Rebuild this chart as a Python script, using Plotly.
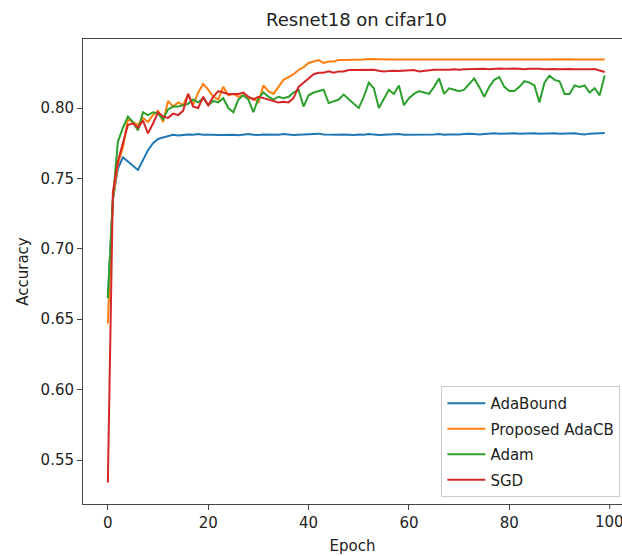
import plotly.graph_objects as go

epochs = list(range(100))

adabound = [0.665, 0.735, 0.757, 0.765, 0.762, 0.759, 0.756, 0.763, 0.770, 0.775,
            0.778, 0.779, 0.780, 0.781, 0.7805, 0.781, 0.7812, 0.781, 0.7815, 0.781,
            0.7812, 0.781, 0.7808, 0.781, 0.7812, 0.781, 0.7806, 0.781, 0.7815, 0.781,
            0.7808, 0.7812, 0.781, 0.7808, 0.781, 0.7815, 0.781, 0.7808, 0.781, 0.7812,
            0.781, 0.7812, 0.7818, 0.7812, 0.781, 0.7808, 0.781, 0.7812, 0.781, 0.7808,
            0.7812, 0.781, 0.7815, 0.781, 0.7808, 0.781, 0.7812, 0.781, 0.7815, 0.781,
            0.781, 0.7812, 0.781, 0.7808, 0.781, 0.7812, 0.7815, 0.781, 0.7812, 0.781,
            0.7812, 0.7815, 0.7818, 0.7815, 0.7812, 0.7815, 0.7818, 0.782, 0.7818, 0.782,
            0.7822, 0.782, 0.7818, 0.782, 0.7822, 0.782, 0.7818, 0.782, 0.7822, 0.782,
            0.7818, 0.782, 0.7822, 0.782, 0.7815, 0.7812, 0.7818, 0.782, 0.7818, 0.7822]

adacb = [0.647, 0.735, 0.760, 0.772, 0.792, 0.790, 0.788, 0.793, 0.790, 0.795,
         0.798, 0.790, 0.805, 0.801, 0.804, 0.802, 0.810, 0.802, 0.811, 0.817,
         0.813, 0.808, 0.806, 0.815, 0.809, 0.810, 0.808, 0.809, 0.807, 0.807,
         0.804, 0.816, 0.812, 0.810, 0.815, 0.820, 0.822, 0.824, 0.827, 0.829,
         0.832, 0.833, 0.834, 0.832, 0.833, 0.833, 0.834, 0.834, 0.834, 0.8343,
         0.8345, 0.8345, 0.8348, 0.8346, 0.8345, 0.8346, 0.8345, 0.8345, 0.8344, 0.8345,
         0.8345, 0.8346, 0.8345, 0.8345, 0.8344, 0.8345, 0.8345, 0.8346, 0.8345, 0.8345,
         0.8344, 0.8345, 0.8346, 0.8345, 0.8345, 0.8345, 0.8346, 0.8345, 0.8345, 0.8344,
         0.8345, 0.8345, 0.8346, 0.8345, 0.8345, 0.8344, 0.8345, 0.8345, 0.8346, 0.8345,
         0.8345, 0.8345, 0.8346, 0.8345, 0.8345, 0.8344, 0.8345, 0.8345, 0.8346, 0.8345]

adam = [0.665, 0.735, 0.776, 0.786, 0.794, 0.790, 0.784, 0.797, 0.795, 0.797,
        0.796, 0.792, 0.799, 0.801, 0.801, 0.802, 0.803, 0.806, 0.804, 0.807,
        0.802, 0.805, 0.804, 0.807, 0.800, 0.797, 0.806, 0.809, 0.806, 0.797,
        0.807, 0.811, 0.808, 0.806, 0.808, 0.807, 0.808, 0.811, 0.813, 0.801,
        0.809, 0.811, 0.812, 0.813, 0.8035, 0.805, 0.806, 0.8095, 0.806, 0.803,
        0.800, 0.808, 0.818, 0.814, 0.800, 0.807, 0.813, 0.810, 0.816, 0.802,
        0.807, 0.810, 0.812, 0.811, 0.810, 0.815, 0.821, 0.810, 0.814, 0.813,
        0.812, 0.813, 0.817, 0.821, 0.815, 0.808, 0.815, 0.820, 0.822, 0.815,
        0.812, 0.812, 0.815, 0.819, 0.818, 0.816, 0.804, 0.818, 0.823, 0.820,
        0.819, 0.810, 0.810, 0.816, 0.815, 0.816, 0.811, 0.814, 0.809, 0.823]

sgd = [0.534, 0.740, 0.762, 0.775, 0.788, 0.789, 0.786, 0.791, 0.782, 0.789,
       0.797, 0.794, 0.793, 0.796, 0.795, 0.798, 0.810, 0.801, 0.800, 0.808,
       0.802, 0.808, 0.812, 0.811, 0.810, 0.810, 0.810, 0.811, 0.808, 0.806,
       0.808, 0.807, 0.806, 0.805, 0.804, 0.8045, 0.804, 0.807, 0.815, 0.818,
       0.821, 0.824, 0.825, 0.825, 0.826, 0.825, 0.826, 0.826, 0.827, 0.827,
       0.8268, 0.827, 0.8272, 0.8272, 0.8265, 0.826, 0.8262, 0.8265, 0.8262, 0.8265,
       0.8265, 0.827, 0.826, 0.8265, 0.827, 0.8272, 0.8272, 0.827, 0.8272, 0.8275,
       0.8272, 0.8275, 0.8277, 0.8275, 0.828, 0.8278, 0.8275, 0.8278, 0.828, 0.8278,
       0.828, 0.828, 0.8278, 0.8275, 0.8278, 0.828, 0.8278, 0.8275, 0.8278, 0.8277,
       0.8275, 0.8278, 0.8277, 0.8275, 0.8277, 0.8278, 0.8276, 0.8277, 0.8265, 0.8256]

series = [
    ("AdaBound", adabound, "#1f77b4"),
    ("Proposed AdaCB", adacb, "#ff7f0e"),
    ("Adam", adam, "#2ca02c"),
    ("SGD", sgd, "#d62728"),
]

x_ticks = [0, 20, 40, 60, 80]
x_last_tick = 100
y_ticks = [0.55, 0.60, 0.65, 0.70, 0.75, 0.80]

FONT = "DejaVu Sans"
AX = "#444444"
TXT = "#222222"
FS = 15

fig = go.Figure()
for i, (name, vals, col) in enumerate(series):
    fig.add_trace(go.Scatter(x=epochs, y=vals, mode="lines", name=name,
                             legendgroup=f"g{i}",
                             line=dict(color=col, width=2)))

fig.update_layout(
    width=622, height=556,
    margin=dict(l=83, r=0, t=39, b=52),
    paper_bgcolor="white", plot_bgcolor="white",
    font=dict(family=FONT, size=FS, color=TXT),
    showlegend=True,
    legend=dict(x=0.997, y=0.015, xanchor="right", yanchor="bottom",
                bgcolor="rgba(255,255,255,0.8)", bordercolor="#cccccc", borderwidth=1,
                traceorder="grouped", tracegroupgap=3, itemwidth=38,
                font=dict(family=FONT, size=FS, color=TXT)),
    xaxis=dict(range=[-4.95, 102.45], tickvals=x_ticks, ticktext=[str(t) for t in x_ticks],
               showgrid=False, zeroline=False, showline=True, linecolor=AX, linewidth=1,
               mirror=True, ticks="outside", ticklen=5, tickcolor=AX,
               title=dict(text="Epoch", font=dict(size=FS), standoff=9)),
    yaxis=dict(range=[0.5188, 0.849], tickvals=y_ticks, ticktext=[f"{t:.2f}" for t in y_ticks],
               showgrid=False, zeroline=False, showline=True, linecolor=AX, linewidth=1,
               ticks="outside", ticklen=5, tickcolor=AX,
               title=dict(text="Accuracy", font=dict(size=FS), standoff=8)),
)

# last x tick (its label runs off the right edge, as in the reference)
fig.add_annotation(text=str(x_last_tick), x=x_last_tick, xref="x", y=0, yref="paper",
                   yanchor="top", xanchor="center", yshift=-7, showarrow=False,
                   font=dict(family=FONT, size=FS, color=TXT))
fig.add_shape(type="line", xref="x", yref="paper", x0=x_last_tick, x1=x_last_tick,
              y0=0, y1=-5 / 465, line=dict(color=AX, width=1))

fig.add_annotation(text="Resnet18 on cifar10", xref="paper", yref="paper",
                   x=0.5076, y=1.0, yshift=7, xanchor="center", yanchor="bottom",
                   showarrow=False, font=dict(family=FONT, size=18, color=TXT))

fig.write_html("out.html")
